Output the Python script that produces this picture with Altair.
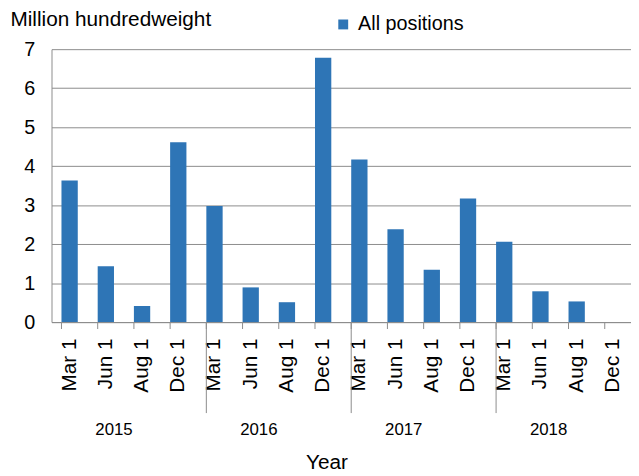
import altair as alt
import pandas as pd

years = ["2015", "2016", "2017", "2018"]
months = ["Mar 1", "Jun 1", "Aug 1", "Dec 1"]
values = [3.63, 1.43, 0.41, 4.61,
          2.98, 0.89, 0.51, 6.78,
          4.17, 2.38, 1.34, 3.17,
          2.06, 0.79, 0.53, None]
series_name = "All positions"

keys = [f"{y}|{m}" for y in years for m in months]
bars_df = pd.DataFrame({"key": keys, "value": values, "series": series_name})
ticks_df = pd.DataFrame({"key": keys})
sep_df = pd.DataFrame({"key": [f"{y}|{months[0]}" for y in years[1:]]})
year_df = pd.DataFrame({"key": [f"{y}|{months[1]}" for y in years], "year": years})

FONT = "Liberation Sans"
GRID = "#8C8C8C"
W, H = 586, 276

xscale = alt.Scale(domain=keys, paddingInner=0.55, paddingOuter=0.275)

bars = alt.Chart(bars_df).mark_bar(color="#2E75B6").encode(
    x=alt.X("key:N", scale=xscale, sort=keys,
            axis=alt.Axis(labelExpr="split(datum.value, '|')[1]", labelAngle=-90,
                          labelFontSize=21, labelColor="black", labelFont=FONT,
                          ticks=False, labelPadding=16, domainColor=GRID,
                          title="Year", titleFontSize=21, titleFont=FONT,
                          titleFontWeight="normal", titleColor="black",
                          titleX=278, titleY=148, titleAlign="center",
                          titleBaseline="alphabetic")),
    y=alt.Y("value:Q", scale=alt.Scale(domain=[0, 7], nice=False),
            axis=alt.Axis(values=[0, 1, 2, 3, 4, 5, 6, 7], grid=True, gridColor=GRID,
                          gridOpacity=1, ticks=False, labelPadding=17, labelFontSize=20,
                          labelColor="black", labelFont=FONT, domainColor=GRID,
                          title="Million hundredweight", titleAngle=0, titleAlign="left",
                          titleBaseline="alphabetic", titleX=-42, titleY=-24,
                          titleFontSize=21, titleFont=FONT, titleFontWeight="normal",
                          titleColor="black")),
    color=alt.Color("series:N", scale=alt.Scale(range=["#2E75B6"]),
                    legend=alt.Legend(title=None, orient="none", legendX=285, legendY=-35,
                                      symbolType="square", symbolSize=100,
                                      symbolStrokeWidth=0, labelFontSize=20, labelFont=FONT,
                                      labelColor="black", labelOffset=5, padding=0)),
)

ticks = alt.Chart(ticks_df).mark_rule(color=GRID, strokeWidth=1).encode(
    x=alt.X("key:N", scale=xscale, sort=keys, bandPosition=0),
    y=alt.value(H), y2=alt.value(H + 7),
)

seps = alt.Chart(sep_df).mark_rule(color=GRID, strokeWidth=1).encode(
    x=alt.X("key:N", scale=xscale, sort=keys, bandPosition=0),
    y=alt.value(H), y2=alt.value(H + 92),
)

year_text = alt.Chart(year_df).mark_text(fontSize=17, font=FONT, color="black",
                                         baseline="middle", align="center").encode(
    x=alt.X("key:N", scale=xscale, sort=keys, bandPosition=1),
    y=alt.value(385),
    text="year:N",
)

chart = alt.layer(bars, ticks, seps, year_text).properties(
    width=W, height=H,
    autosize=alt.AutoSizeParams(type="none"),
    padding={"left": 44, "top": 39, "right": 0, "bottom": 153},
).configure_view(stroke=None)

chart.save("out.html", embed_options={"renderer": "svg", "actions": False})
